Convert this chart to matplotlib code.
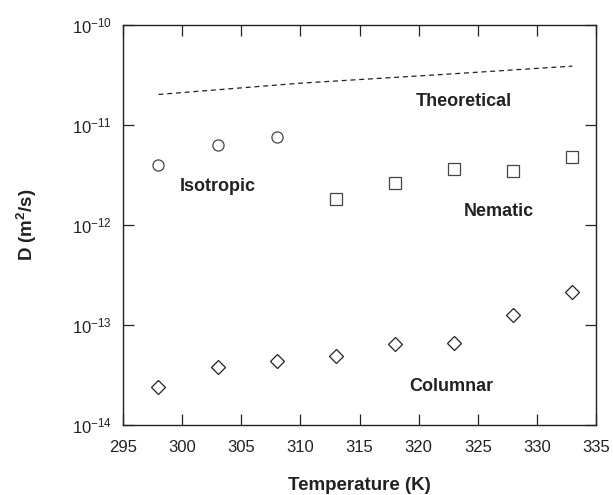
"""
Diffusion coefficient D versus temperature for the isotropic, nematic and
columnar phases, with the theoretical estimate as a dashed line.
Saves out.png.
"""

import matplotlib

matplotlib.use("Agg")
import matplotlib.pyplot as plt
from matplotlib.ticker import FixedLocator, NullLocator

plt.rcParams["font.family"] = ["Liberation Sans", "DejaVu Sans"]
plt.rcParams["mathtext.fontset"] = "custom"
plt.rcParams["mathtext.rm"] = "Liberation Sans"
plt.rcParams["mathtext.it"] = "Liberation Sans:italic"
plt.rcParams["mathtext.bf"] = "Liberation Sans:bold"

# data
T_iso = [298, 303, 308]
D_iso = [4.0e-12, 6.3e-12, 7.6e-12]

T_nem = [313, 318, 323, 328, 333]
D_nem = [1.82e-12, 2.65e-12, 3.6e-12, 3.45e-12, 4.75e-12]

T_col = [298, 303, 308, 313, 318, 323, 328, 333]
D_col = [2.4e-14, 3.8e-14, 4.4e-14, 4.85e-14, 6.4e-14, 6.6e-14, 1.25e-13, 2.15e-13]

T_theory = [298, 310, 322, 333]
D_theory = [2.02e-11, 2.62e-11, 3.2e-11, 3.88e-11]

x_ticks = [295, 300, 305, 310, 315, 320, 325, 330, 335]
y_ticks = [1e-14, 1e-13, 1e-12, 1e-11, 1e-10]
y_ticklabels = ["$10^{-14}$", "$10^{-13}$", "$10^{-12}$", "$10^{-11}$", "$10^{-10}$"]

INK = "#222222"

fig = plt.figure(figsize=(6.13, 4.95), dpi=100)
ax = fig.add_axes([123 / 613, 1 - 425 / 495, 473 / 613, 400 / 495])

ax.plot(T_theory, D_theory, linestyle=(0, (4, 3)), color=INK, linewidth=0.9)
ax.plot(T_iso, D_iso, "o", mfc="white", mec="#444444", mew=0.9, ms=8)
ax.plot(T_nem, D_nem, "s", mfc="white", mec="#444444", mew=0.9, ms=8)
ax.plot(T_col, D_col, "D", mfc="white", mec=INK, mew=0.9, ms=7.5)

ax.set_yscale("log")
ax.set_xlim(295, 335)
ax.set_ylim(1e-14, 1e-10)
ax.xaxis.set_major_locator(FixedLocator(x_ticks))
ax.yaxis.set_major_locator(FixedLocator(y_ticks))
ax.yaxis.set_minor_locator(NullLocator())
ax.set_yticklabels(y_ticklabels)

ax.tick_params(
    axis="both",
    which="major",
    direction="in",
    top=True,
    right=True,
    length=8,
    width=0.9,
    color=INK,
    labelsize=12,
    labelcolor=INK,
    pad=8,
)
ax.tick_params(axis="x", pad=11)
for s in ax.spines.values():
    s.set_color(INK)
    s.set_linewidth(1.0)

ax.set_xlabel("Temperature (K)", fontsize=13.5, fontweight="bold", color=INK, labelpad=16)
ax.set_ylabel("D (m$^\\mathbf{2}$/s)", fontsize=13.5, fontweight="bold", color=INK, labelpad=24)

lab = dict(fontsize=13, fontweight="bold", color=INK, ha="center", va="center")
ax.text(323.8, 1.7e-11, "Theoretical", **lab)
ax.text(303.0, 2.4e-12, "Isotropic", **lab)
ax.text(326.8, 1.38e-12, "Nematic", **lab)
ax.text(322.8, 2.45e-14, "Columnar", **lab)

fig.savefig("out.png", dpi=100)
